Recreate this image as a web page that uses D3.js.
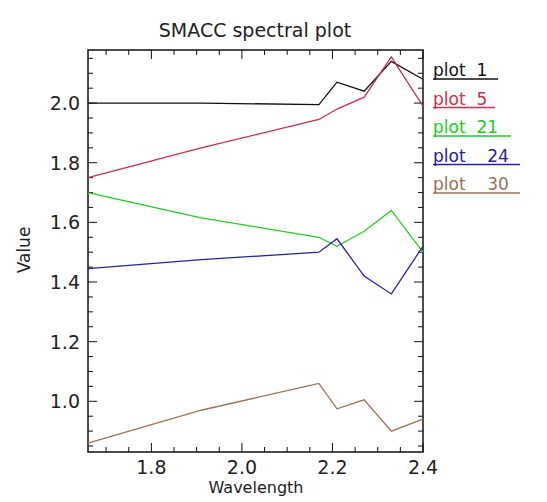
<!DOCTYPE html>
<html><head><meta charset="utf-8">
<script src="https://cdn.jsdelivr.net/npm/d3@7"></script>
<style>body{margin:0;background:#fff}text{font-family:"DejaVu Sans",sans-serif}</style>
</head><body><svg id="chart" width="547" height="502"></svg>
<script>
var wavelength = [1.66, 1.91, 2.17, 2.21, 2.27, 2.33, 2.4]
var plot1  = [2.0, 2.0, 1.995, 2.07, 2.04, 2.14, 2.08]
var plot5  = [1.75, 1.85, 1.945, 1.98, 2.02, 2.155, 1.99]
var plot21 = [1.70, 1.615, 1.55, 1.52, 1.57, 1.64, 1.50]
var plot24 = [1.445, 1.475, 1.50, 1.545, 1.42, 1.36, 1.52]
var plot30 = [0.86, 0.97, 1.06, 0.975, 1.005, 0.90, 0.94]
var seriesNames = ["plot  1", "plot  5", "plot  21", "plot    24", "plot    30"]
var colors = ["#111111", "#c8304a", "#22cc22", "#2424a0", "#a07058"]
var allSeries = [plot1, plot5, plot21, plot24, plot30]

var svg = d3.select("#chart")
var mLeft = 88, mRight = 423, mTop = 50, mBottom = 452

var x = d3.scaleLinear().domain([1.66, 2.4]).range([mLeft, mRight])
var y = d3.scaleLinear().domain([0.83, 2.178]).range([mBottom, mTop])

svg.append("rect").attr("x", mLeft).attr("y", mTop).attr("width", mRight-mLeft).attr("height", mBottom-mTop)
   .attr("fill", "none").attr("stroke", "#111").attr("stroke-width", 1.5)

// major and minor ticks on all sides
var xMinor = d3.range(1.7, 2.4001, 0.05)
var yMinor = d3.range(0.85, 2.1751, 0.05)
xMinor.forEach(function(v){
  var major = Math.abs(v*5 - Math.round(v*5)) < 1e-6
  var len = major ? 9 : 5
  svg.append("line").attr("x1", x(v)).attr("x2", x(v)).attr("y1", mBottom).attr("y2", mBottom-len).attr("stroke", "#111")
  svg.append("line").attr("x1", x(v)).attr("x2", x(v)).attr("y1", mTop).attr("y2", mTop+len).attr("stroke", "#111")
})
yMinor.forEach(function(v){
  var major = Math.abs(v*5 - Math.round(v*5)) < 1e-6
  var len = major ? 9 : 5
  svg.append("line").attr("y1", y(v)).attr("y2", y(v)).attr("x1", mLeft).attr("x2", mLeft+len).attr("stroke", "#111")
  svg.append("line").attr("y1", y(v)).attr("y2", y(v)).attr("x1", mRight).attr("x2", mRight-len).attr("stroke", "#111")
})

var xLabels = [1.8, 2.0, 2.2, 2.4]
var yLabels = [1.0, 1.2, 1.4, 1.6, 1.8, 2.0]
svg.selectAll(".xl").data(xLabels).enter().append("text")
  .attr("x", d => x(d)).attr("y", mBottom+22).attr("text-anchor", "middle")
  .attr("font-size", 19).attr("fill", "#222").text(d => d.toFixed(1))
svg.selectAll(".yl").data(yLabels).enter().append("text")
  .attr("x", mLeft-8).attr("y", d => y(d)+7).attr("text-anchor", "end")
  .attr("font-size", 19).attr("fill", "#222").text(d => d.toFixed(1))

svg.append("text").attr("x", 255).attr("y", 37).attr("text-anchor", "middle")
  .attr("font-size", 19).attr("fill", "#222").text("SMACC spectral plot")
svg.append("text").attr("x", 256).attr("y", 493).attr("text-anchor", "middle")
  .attr("font-size", 16).attr("fill", "#222").text("Wavelength")
svg.append("text").attr("transform", "translate(30,250) rotate(-90)").attr("text-anchor", "middle")
  .attr("font-size", 17).attr("fill", "#222").text("Value")

var line = d3.line().x((d,i) => x(wavelength[i])).y(d => y(d))
allSeries.forEach(function(s, k){
  svg.append("path").datum(s).attr("d", line).attr("fill", "none")
    .attr("stroke", colors[k]).attr("stroke-width", 1.3)
})

// legend
var legendEnds = [498, 495, 511, 520, 520]
seriesNames.forEach(function(n, k){
  var ly = 79 + k*28.5
  svg.append("text").attr("x", 433).attr("y", ly-3).attr("font-size", 17)
    .attr("fill", colors[k]).style("white-space", "pre").text(n)
  svg.append("line").attr("x1", 433).attr("x2", legendEnds[k]).attr("y1", ly).attr("y2", ly)
    .attr("stroke", colors[k]).attr("stroke-width", 1.5)
})
</script></body></html>
